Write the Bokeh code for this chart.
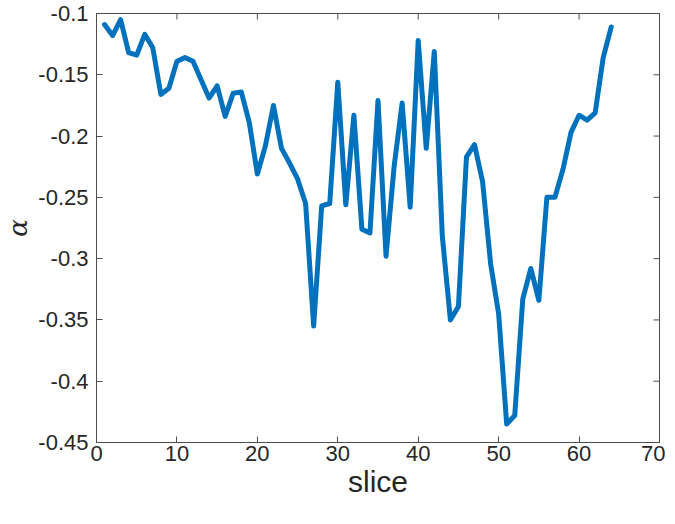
import math
from bokeh.plotting import figure
from bokeh.models import FixedTicker, Range1d
from bokeh.embed import file_html
from bokeh.resources import INLINE

slices = list(range(1, 65))
alpha = [-0.109, -0.118, -0.105, -0.132, -0.134, -0.117, -0.128, -0.166, -0.161, -0.139,
         -0.136, -0.139, -0.154, -0.169, -0.159, -0.184, -0.165, -0.164, -0.189, -0.231,
         -0.208, -0.175, -0.210, -0.222, -0.235, -0.255, -0.355, -0.257, -0.255, -0.156,
         -0.256, -0.183, -0.276, -0.279, -0.171, -0.298, -0.225, -0.173, -0.258, -0.122,
         -0.210, -0.131, -0.282, -0.350, -0.339, -0.217, -0.207, -0.237, -0.304, -0.345,
         -0.435, -0.428, -0.333, -0.308, -0.334, -0.250, -0.250, -0.227, -0.197, -0.183,
         -0.187, -0.181, -0.136, -0.111]

xticks = [0, 10, 20, 30, 40, 50, 60, 70]
yticks = [-0.45, -0.4, -0.35, -0.3, -0.25, -0.2, -0.15, -0.1]
ytick_labels = ["-0.45", "-0.4", "-0.35", "-0.3", "-0.25", "-0.2", "-0.15", "-0.1"]

AX = "#4d4d4d"
TXT = "#262626"

p = figure(width=665, height=508, output_backend="svg", toolbar_location=None,
           x_range=Range1d(xticks[0], xticks[-1]), y_range=Range1d(yticks[0], yticks[-1]),
           min_border_left=89, min_border_top=13, min_border_right=6, min_border_bottom=66)
p.background_fill_color = "white"
p.border_fill_color = "white"
p.outline_line_color = AX
p.outline_line_width = 1
p.grid.visible = False

p.line(slices, alpha, line_color="#0072BD", line_width=5, line_join="round", line_cap="round")

# inward ticks on the top and right edges of the box (MATLAB style)
p.scatter(x=xticks, y=[yticks[-1]] * len(xticks), marker="dash", angle=math.pi / 2,
          size=12, line_color=AX, line_width=1)
p.scatter(x=[xticks[-1]] * len(yticks), y=yticks, marker="dash",
          size=12, line_color=AX, line_width=1)

def style(ax, ticks):
    ax.ticker = FixedTicker(ticks=ticks)
    ax.axis_line_color = AX
    ax.major_tick_line_color = AX
    ax.major_tick_in = 6
    ax.major_tick_out = 0
    ax.minor_tick_line_color = None
    ax.major_label_text_font = "Liberation Sans"
    ax.major_label_text_color = TXT
    ax.major_label_text_font_size = "22px"

xa = p.xaxis[0]
style(xa, xticks)
xa.major_label_standoff = 3
xa.axis_label = "slice"
xa.axis_label_text_font = "Liberation Sans"
xa.axis_label_text_font_style = "normal"
xa.axis_label_text_font_size = "30px"
xa.axis_label_text_color = TXT
xa.axis_label_standoff = 1

ya = p.yaxis[0]
style(ya, yticks)
ya.major_label_overrides = {v: l for v, l in zip(yticks, ytick_labels)}
ya.major_label_standoff = 8
ya.axis_label = "α"
ya.axis_label_text_font = "DejaVu Serif"
ya.axis_label_text_font_style = "italic"
ya.axis_label_text_font_size = "26px"
ya.axis_label_text_color = TXT
ya.axis_label_standoff = 2

open("out.html", "w").write(file_html(p, INLINE))
